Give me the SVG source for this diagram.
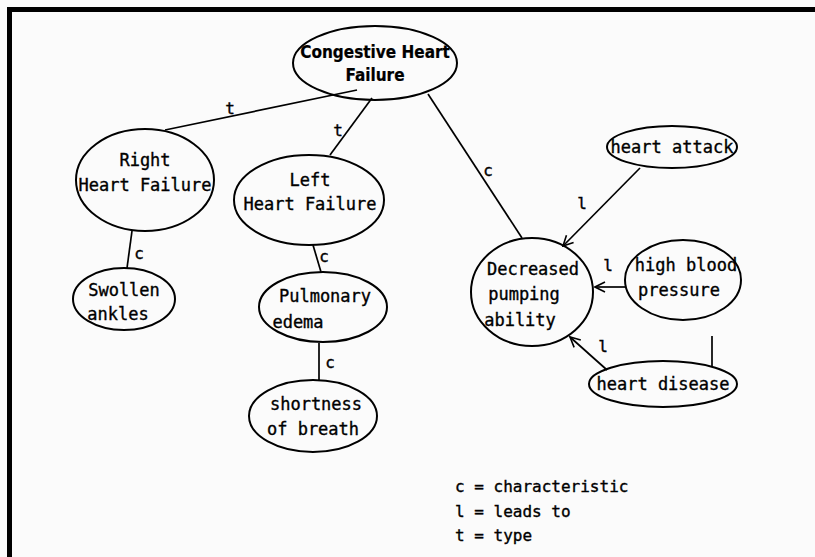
<svg xmlns="http://www.w3.org/2000/svg" width="815" height="557" viewBox="0 0 815 557">
  <style>
    .node ellipse { fill: none; stroke: #000; stroke-width: 2; }
    .node text, .lbl, .legend text { font-family: "DejaVu Sans Mono", "Liberation Mono", monospace; font-size: 17px; fill: #000; stroke: #000; stroke-width: 0.35; }
    .node text { text-anchor: middle; }
    .title text { font-family: "DejaVu Sans Condensed", "DejaVu Sans", sans-serif; font-weight: bold; font-size: 17px; stroke-width: 0.2; }
    .edges line { stroke: #000; stroke-width: 1.7; }
    .lbl { text-anchor: middle; font-size: 16px; }
    .legend text { font-size: 16px; }
  </style>
  <defs>
    <marker id="open" viewBox="0 0 12 12" refX="11" refY="6" markerWidth="12" markerHeight="12" markerUnits="userSpaceOnUse" orient="auto">
      <path d="M1,1 L11,6 L1,11" fill="none" stroke="#000" stroke-width="1.6"/>
    </marker>
  </defs>

  <rect width="815" height="557" fill="#fbfbfb"/>
  <!-- frame: top and left rules only -->
  <rect x="7" y="7" width="808" height="5" fill="#000"/>
  <rect x="7" y="7" width="5" height="550" fill="#000"/>

  <!-- connectors -->
  <g class="edges">
    <line x1="357" y1="90" x2="165" y2="130"/>
    <line x1="372" y1="98" x2="330" y2="155"/>
    <line x1="428" y1="94" x2="522" y2="238"/>
    <line x1="132" y1="231" x2="127" y2="268"/>
    <line x1="313" y1="245" x2="321" y2="272"/>
    <line x1="319" y1="343" x2="319" y2="380"/>
    <line x1="640" y1="168" x2="563" y2="246" marker-end="url(#open)"/>
    <line x1="625" y1="287" x2="595" y2="287" marker-end="url(#open)"/>
    <line x1="607" y1="370" x2="570" y2="337" marker-end="url(#open)"/>
    <line x1="712" y1="336" x2="712" y2="366" stroke="#cfcfcf" stroke-width="0.8"/>
    <text class="lbl" x="230" y="114">t</text>
    <text class="lbl" x="338" y="136">t</text>
    <text class="lbl" x="488" y="176">c</text>
    <text class="lbl" x="139" y="259">c</text>
    <text class="lbl" x="324" y="262">c</text>
    <text class="lbl" x="330" y="368">c</text>
    <text class="lbl" x="582" y="209">l</text>
    <text class="lbl" x="608" y="271">l</text>
    <text class="lbl" x="603" y="352">l</text>
  </g>

  <g id="chf" class="node title">
    <ellipse cx="375" cy="63" rx="82" ry="37"/>
    <text x="375" y="58">Congestive Heart</text>
    <text x="375" y="81">Failure</text>
  </g>
  <g id="rhf" class="node">
    <ellipse cx="145" cy="180" rx="69" ry="51"/>
    <text x="145" y="166">Right</text>
    <text x="145" y="191">Heart Failure</text>
  </g>
  <g id="lhf" class="node">
    <ellipse cx="309" cy="200" rx="75" ry="45"/>
    <text x="310" y="186">Left</text>
    <text x="310" y="210">Heart Failure</text>
  </g>
  <g id="swollen" class="node">
    <ellipse cx="124" cy="299" rx="51" ry="31"/>
    <text x="124" y="296">Swollen</text>
    <text x="118" y="320">ankles</text>
  </g>
  <g id="pulmonary" class="node">
    <ellipse cx="323" cy="307" rx="64" ry="35"/>
    <text x="325" y="302">Pulmonary</text>
    <text x="298" y="328">edema</text>
  </g>
  <g id="breath" class="node">
    <ellipse cx="313" cy="416" rx="64" ry="36"/>
    <text x="316" y="410">shortness</text>
    <text x="313" y="435">of breath</text>
  </g>
  <g id="pumping" class="node">
    <ellipse cx="532" cy="292" rx="61" ry="54"/>
    <text x="533" y="275">Decreased</text>
    <text x="524" y="300">pumping</text>
    <text x="520" y="326">ability</text>
  </g>
  <g id="attack" class="node">
    <ellipse cx="672" cy="147" rx="65" ry="21"/>
    <text x="672" y="153">heart attack</text>
  </g>
  <g id="pressure" class="node">
    <ellipse cx="683" cy="280" rx="58" ry="40"/>
    <text x="686" y="271">high blood</text>
    <text x="679" y="296">pressure</text>
  </g>
  <g id="disease" class="node">
    <ellipse cx="663" cy="384" rx="74" ry="23"/>
    <text x="663" y="390">heart disease</text>
  </g>

  <g class="legend">
    <text x="455" y="492">c = characteristic</text>
    <text x="455" y="517">l = leads to</text>
    <text x="455" y="541">t = type</text>
  </g>
</svg>
